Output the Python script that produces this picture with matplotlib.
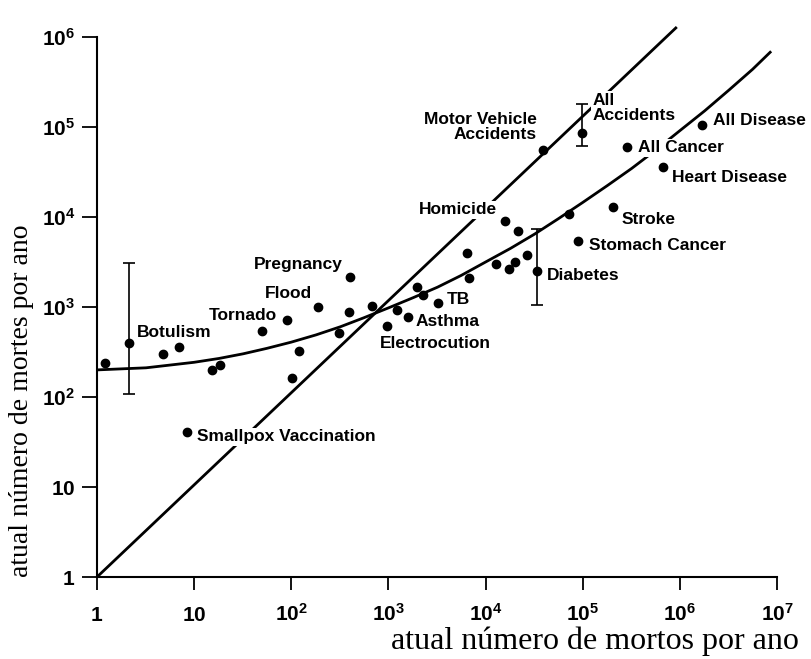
import matplotlib
matplotlib.use("Agg")
import matplotlib.pyplot as plt

plt.rcParams['mathtext.fontset'] = 'custom'
plt.rcParams['mathtext.rm'] = 'Liberation Sans:bold'
plt.rcParams['mathtext.it'] = 'Liberation Sans:bold'
plt.rcParams['mathtext.bf'] = 'Liberation Sans:bold'

# one dot per cause of death: estimated (x) vs actual (y) deaths per year
est = [1.21, 2.13, 4.78, 6.98, 15.3, 18.5, 50, 90, 120, 102,
       188, 8.4, 402, 393, 678, 310, 1225, 1592, 967, 1968,
       2270, 3238, 15850, 21600, 6440, 6750, 12800, 17400, 20100, 26700,
       33900, 72300, 89500, 205000, 39000, 98400, 286000, 671000, 1690000]
obs = [239, 398, 300, 359, 200, 227, 541, 717, 325, 163,
       1000, 41, 2154, 880, 1026, 514, 926, 774, 615, 1668,
       1359, 1108, 9030, 6990, 3981, 2100, 3000, 2645, 3162, 3780,
       2512, 10800, 5410, 12900, 55500, 85800, 60000, 35900, 105000]
names = ["", "Botulism", "", "", "", "", "", "Tornado", "", "",
         "Flood", "Smallpox Vaccination", "Pregnancy", "", "", "", "", "Asthma", "Electrocution", "",
         "", "TB", "Homicide", "", "", "", "", "", "", "",
         "Diabetes", "", "Stomach Cancer", "Stroke", "Motor Vehicle\nAccidents", "All\nAccidents",
         "All Cancer", "Heart Disease", "All Disease"]

# ranges shown as error bars
err_x = [2.13, 33900, 98400]
err_y = [398, 2512, 85800]
err_lo = [108, 1052, 61500]
err_hi = [3083, 7360, 180000]

# straight line (estimate = actual)
diag_x = [1, 9.3e5]
diag_y = [1, 1.29e6]

# fitted curve
curve_x = [1, 3.2, 10, 18, 32, 56, 100, 180, 320, 560, 1000, 1800, 3200, 5600,
           1e4, 1.8e4, 3.2e4, 5.6e4, 1e5, 1.8e5, 3.2e5, 5.6e5, 1e6, 1.8e6, 3.2e6, 5.6e6, 8.5e6]
curve_y = [200, 211, 243, 268, 302, 347, 407, 490, 603, 760, 977, 1270, 1660, 2240,
           3160, 4470, 6460, 9550, 14500, 22400, 34700, 55000, 91000, 151000, 257000, 437000, 676000]

xticks = [1, 10, 1e2, 1e3, 1e4, 1e5, 1e6, 1e7]
xlabels = ['$1$', '$10$', '$10^{2}$', '$10^{3}$', '$10^{4}$', '$10^{5}$', '$10^{6}$', '$10^{7}$']
yticks = [1, 10, 1e2, 1e3, 1e4, 1e5, 1e6]
ylabels = ['$1$', '$10$', '$10^{2}$', '$10^{3}$', '$10^{4}$', '$10^{5}$', '$10^{6}$']

# label placement: offset in pixels from the dot, horizontal alignment
offsets = {
    "Botulism": (8, 11, 'left'),
    "Tornado": (-10, 4, 'right'),
    "Flood": (-6, 13, 'right'),
    "Pregnancy": (-7, 12, 'right'),
    "Smallpox Vaccination": (10, -5, 'left'),
    "Homicide": (-8, 11, 'right'),
    "Motor Vehicle\nAccidents": (-6, 23, 'right'),
    "All\nAccidents": (11, 25, 'left'),
    "All Disease": (11, 5, 'left'),
    "All Cancer": (11, -1, 'left'),
    "Heart Disease": (9, -10, 'left'),
    "Stroke": (9, -12, 'left'),
    "Stomach Cancer": (11, -5, 'left'),
    "Diabetes": (10, -5, 'left'),
    "TB": (9, 3, 'left'),
    "Asthma": (8, -4, 'left'),
    "Electrocution": (-7, -18, 'left'),
}

fig = plt.figure(figsize=(8.11, 6.59), dpi=100)
ax = fig.add_axes([0.1196, 0.1244, 0.8385, 0.8474])
ax.set_xscale('log')
ax.set_yscale('log')

ax.plot(diag_x, diag_y, color='k', lw=2, zorder=2, solid_capstyle='butt')
ax.plot(curve_x, curve_y, color='k', lw=2, zorder=2)
ax.errorbar(err_x, err_y,
            yerr=[[c - l for c, l in zip(err_y, err_lo)], [h - c for c, h in zip(err_y, err_hi)]],
            fmt='none', ecolor='k', elinewidth=1.2, capsize=4, capthick=1.2, zorder=2)
ax.plot(est, obs, 'o', color='k', ms=6, zorder=4)

for x, y, n in zip(est, obs, names):
    if n == "":
        continue
    dx, dy, ha = offsets[n]
    ax.annotate(n, (x, y), xytext=(dx, dy), textcoords='offset pixels',
                ha=ha, va='center', multialignment=ha,
                family='Liberation Sans', weight='bold', fontsize=12.5,
                linespacing=1.0, zorder=3,
                bbox=dict(boxstyle='square,pad=0.1', fc='white', ec='none'))

ax.set_xlim(1, 1e7)
ax.set_ylim(1, 1.6e6)
ax.spines['top'].set_visible(False)
ax.spines['right'].set_visible(False)
ax.spines['left'].set_bounds(1, 1e6)
ax.spines['left'].set_linewidth(1.5)
ax.spines['bottom'].set_linewidth(1.5)

ax.set_xticks(xticks, xlabels)
ax.set_yticks(yticks, ylabels)
ax.minorticks_off()
ax.tick_params(axis='x', length=9.4, width=1.3, pad=22, labelsize=15)
ax.tick_params(axis='y', length=10.8, width=1.3, pad=5, labelsize=15)
plt.setp(ax.get_xticklabels(), va='baseline')
plt.setp(ax.get_yticklabels(), va='center_baseline')

fig.text(22 / 811, 1 - 401 / 659, 'atual número de mortes por ano', rotation=90,
         ha='center', va='center', family='Liberation Serif', fontsize=20)
fig.text(595 / 811, 1 - 641 / 659, 'atual número de mortos por ano',
         ha='center', va='center', family='Liberation Serif', fontsize=23)

fig.savefig('out.png', dpi=100)
